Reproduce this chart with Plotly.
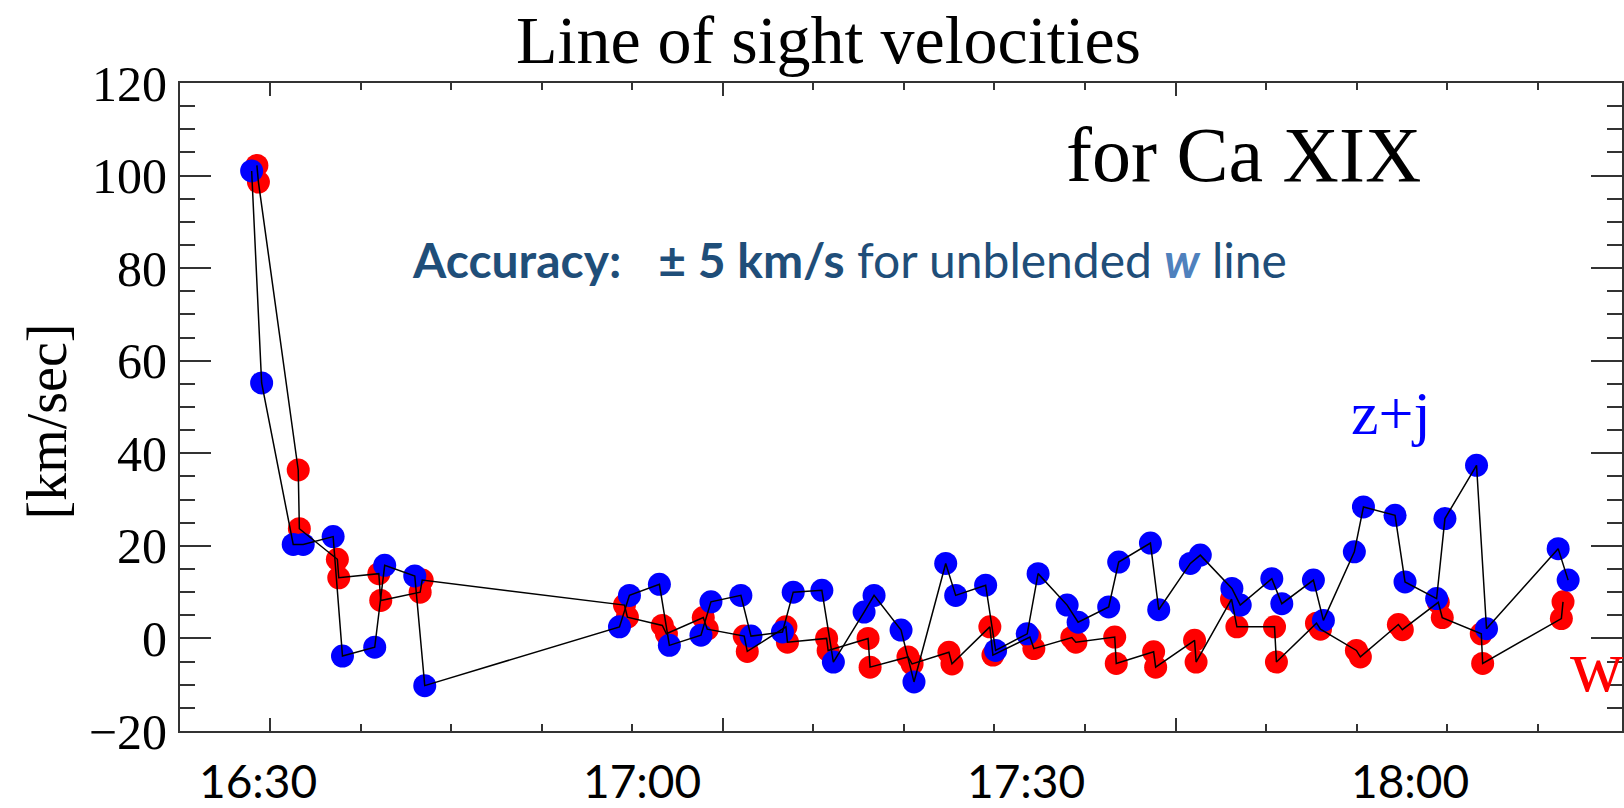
import plotly.graph_objects as go

# time in minutes after 16:00
blue_t = [29.49, 30.27, 32.74, 33.52, 35.86, 36.59, 39.11, 39.89, 42.24, 43.02,
          58.24, 59.02, 61.36, 62.14, 64.61, 65.39, 67.73, 68.52, 70.98, 71.82,
          74.06, 74.96, 77.36, 78.14, 80.25, 81.26, 83.74, 84.52, 86.86, 87.64,
          90.11, 90.96, 93.23, 94.09, 96.48, 97.26, 99.74, 100.39, 102.86, 103.64,
          106.11, 106.76, 109.23, 110.01, 112.48, 113.26, 115.68, 116.39, 118.86, 119.64,
          122.11, 122.76, 125.23, 126.01, 131.61, 132.39]
blue_v = [101.0, 55.2, 20.3, 20.3, 22.0, -3.8, -1.9, 15.8, 13.5, -10.2,
          2.5, 9.3, 11.7, -1.5, 0.7, 7.9, 9.3, 0.5, 1.4, 10.0,
          10.4, -5.1, 5.7, 9.3, 1.8, -9.4, 16.2, 9.3, 11.5, -2.6,
          1.0, 14.0, 7.2, 3.5, 6.8, 16.5, 20.6, 6.2, 16.2, 18.0,
          10.8, 7.2, 12.9, 7.5, 12.6, 3.9, 18.7, 28.4, 26.6, 12.2,
          8.6, 25.9, 37.4, 2.1, 19.4, 12.6]

red_t = [29.90, 30.02, 33.13, 33.22, 36.19, 36.30, 39.43, 39.58, 42.66, 42.82,
         58.63, 58.86, 61.59, 61.91, 64.79, 65.10, 67.99, 68.23, 71.25, 71.37,
         74.43, 74.55, 77.67, 77.83, 80.79, 81.11, 83.99, 84.23, 87.19, 87.43,
         90.32, 90.63, 93.60, 93.91, 96.95, 97.07, 99.99, 100.15, 103.19, 103.31,
         106.08, 106.50, 109.44, 109.59, 112.72, 113.03, 115.84, 116.15, 119.12, 119.43,
         122.24, 122.55, 125.60, 125.71, 131.86, 131.99]
red_v = [102.2, 98.6, 36.4, 23.7, 17.1, 13.1, 14.0, 8.2, 10.0, 12.6,
         7.2, 4.6, 2.8, 1.0, 4.5, 2.0, 0.5, -2.8, 2.5, -0.8,
         0.0, -2.6, 0.0, -6.2, -4.0, -5.5, -3.0, -5.5, 2.5, -3.6,
         0.3, -2.2, 0.2, -0.8, 0.3, -5.4, -2.9, -6.2, -0.4, -5.1,
         8.5, 2.5, 2.5, -5.1, 3.3, 2.0, -2.6, -4.0, 3.0, 1.9,
         7.8, 4.5, 1.0, -5.4, 4.3, 7.9]

time_ticks = [30, 60, 90, 120]
time_labels = ["16:30", "17:00", "17:30", "18:00"]

x_range = [23.89, 136.6]
y_range = [-20, 120]

SERIF = "Liberation Serif"
SANS = "Lato"
AX = "#333333"

fig = go.Figure()
fig.add_trace(go.Scatter(x=red_t, y=red_v, mode="markers",
                         marker=dict(color="#FF0000", size=23, line=dict(width=0)),
                         showlegend=False, hoverinfo="skip"))
fig.add_trace(go.Scatter(x=blue_t, y=blue_v, mode="markers",
                         marker=dict(color="#0000FF", size=23, line=dict(width=0)),
                         showlegend=False, hoverinfo="skip"))
fig.add_trace(go.Scatter(x=red_t, y=red_v, mode="lines",
                         line=dict(color="black", width=1.5),
                         showlegend=False, hoverinfo="skip"))
fig.add_trace(go.Scatter(x=blue_t, y=blue_v, mode="lines",
                         line=dict(color="black", width=1.5),
                         showlegend=False, hoverinfo="skip"))

annotations = [
    dict(text="Line of sight velocities", xref="paper", yref="paper",
         x=0.45, y=(731 - 1) / 648, showarrow=False,
         xanchor="center", yanchor="top", borderpad=0,
         font=dict(family=SERIF, size=68, color="black")),
    dict(text="[km/sec]", xref="paper", yref="paper", x=-0.0921, y=0.478,
         textangle=-90, showarrow=False, xanchor="center", yanchor="middle",
         font=dict(family=SERIF, size=56, color="black")),
    dict(text="for Ca XIX", xref="paper", yref="paper", x=0.7375, y=0.889,
         showarrow=False, xanchor="center", yanchor="middle",
         font=dict(family=SERIF, size=78, color="black")),
    dict(text="<b>Accuracy:</b>\u00a0\u00a0\u00a0<b>\u00b1 5 km/s</b> for unblended "
              "<b><i><span style='color:#4F81BD'>w</span></i></b> line",
         xref="paper", yref="paper", x=0.464, y=0.728,
         showarrow=False, xanchor="center", yanchor="middle",
         font=dict(family=SANS, size=48, color="#1F4E79")),
    dict(text="z+j", xref="paper", yref="paper", x=0.8400, y=0.491,
         showarrow=False, xanchor="center", yanchor="middle",
         font=dict(family=SERIF, size=62, color="#0000FF")),
    dict(text="w", xref="paper", yref="paper", x=0.983, y=0.100,
         showarrow=False, xanchor="center", yanchor="middle",
         font=dict(family=SERIF, size=74, color="#FF0000")),
]
# time labels placed under the axis at their time values
for tv, tl in zip(time_ticks, time_labels):
    annotations.append(dict(text=tl, xref="x", yref="paper", x=tv,
                            y=-(780 - 731) / 648, showarrow=False,
                            xanchor="center", yanchor="middle",
                            font=dict(family=SANS, size=46, color="black")))

fig.update_layout(
    width=1624, height=808,
    margin=dict(l=180, r=0, t=83, b=77),
    plot_bgcolor="white", paper_bgcolor="white",
    showlegend=False,
    xaxis=dict(range=x_range, showline=True, linecolor=AX, linewidth=2,
               mirror="allticks", ticks="inside", ticklen=13, tickwidth=1.5,
               tickcolor=AX, tickmode="linear", tick0=30.92, dtick=35.395,
               minor=dict(tickmode="linear", tick0=30.92, dtick=7.079, ticklen=7,
                          tickwidth=1.5, tickcolor=AX, ticks="inside"),
               showticklabels=False, showgrid=False, zeroline=False),
    yaxis=dict(range=y_range, showline=True, linecolor=AX, linewidth=2,
               mirror="allticks", ticks="inside", ticklen=31, tickwidth=1.5,
               tickcolor=AX, tick0=0, dtick=20,
               minor=dict(dtick=5, ticklen=15, tickwidth=1.5, tickcolor=AX,
                          ticks="inside"),
               showgrid=False, zeroline=False,
               tickfont=dict(family=SERIF, size=50, color="black"),
               ticklabelstandoff=1),
    annotations=annotations,
)

fig.write_html("out.html")
